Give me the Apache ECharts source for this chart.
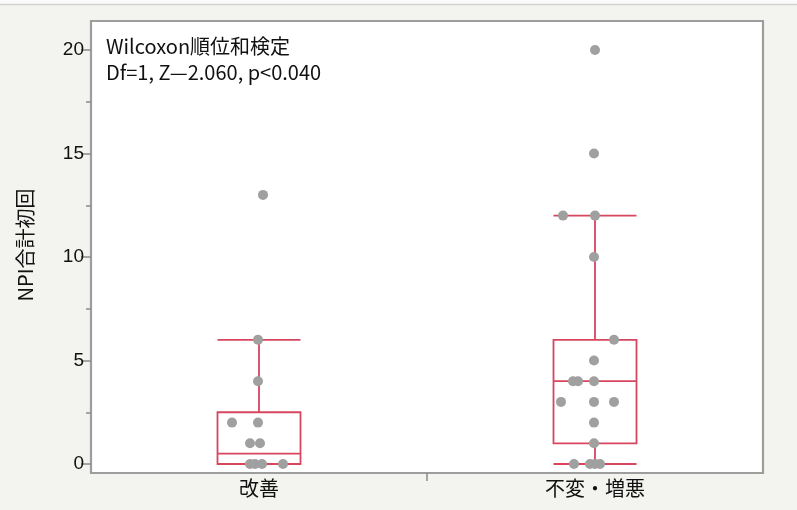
<!DOCTYPE html>
<html>
<head>
<meta charset="utf-8">
<script src="https://cdn.jsdelivr.net/npm/echarts@6/dist/echarts.min.js"></script>
<style>
  html, body { margin: 0; padding: 0; background: #f3f3ef; }
  #chart { width: 797px; height: 510px; }
</style>
</head>
<body>
<div id="chart"></div>
<script>
// カテゴリと箱ひげ図の統計量 [min, Q1, median, Q3, max]
const categories = ['改善', '不変・増悪'];
const boxStats = [
  [0, 0, 0.5, 2.5, 6],
  [0, 1, 4, 6, 12]
];

const valuesImproved = [13, 6, 4, 2, 2, 1, 1, 0, 0, 0, 0];
const valuesWorse = [20, 15, 12, 12, 10, 6, 5, 4, 4, 4, 3, 3, 3, 2, 1, 0, 0, 0, 0];

// 横方向のジッター（px）
const jitterImproved = [4, -1, -1, -27, -1, -9, 1, -9, -4, 3, 24];
const jitterWorse = [0, -1, -32, 0, -1, 19, -1, -22, -17, -1, -34, -1, 19, -1, -1, -21, -5, 0, 5];

const yTicks = { min: 0, max: 20, interval: 5 };
const yName = 'NPI合計初回';
const noteLines = ['Wilcoxon順位和検定', 'Df=1, Z—2.060, p<0.040'];

const cjk = "'Noto Sans CJK JP', sans-serif";
const latin = "'Liberation Sans', Arial, sans-serif";
const boxColor = '#d7455f';
const dotColor = '#a0a0a0';
const tickStyle = { color: '#8c8c8c', width: 1.5 };

const chart = echarts.init(document.getElementById('chart'));

function points(cat, values, jitter) {
  return values.map((v, i) => ({
    value: [cat, v],
    symbolOffset: [jitter[i], 0]
  }));
}

const option = {
  backgroundColor: '#f3f3ef',
  animation: false,
  grid: { left: 91, right: 34, top: 50, bottom: 46 },
  graphic: [
    { type: 'rect', z: -10, shape: { x: 0, y: 0, width: 797, height: 4 }, style: { fill: '#fafafa' } },
    { type: 'line', z: -10, shape: { x1: 0, y1: 4.5, x2: 797, y2: 4.5 }, style: { stroke: '#d2d2d2', lineWidth: 1.5 } },
    {
      type: 'rect', z: -5,
      shape: { x: 91, y: 21, width: 672, height: 452 },
      style: { fill: '#ffffff', stroke: '#9d9d9d', lineWidth: 2.2 }
    },
    {
      type: 'text', z: 10, x: 106, y: 33,
      style: {
        text: noteLines.join('\n'),
        font: '20px ' + cjk,
        lineHeight: 26,
        fill: '#111111'
      }
    },
    {
      type: 'text', z: 10, x: 25, y: 245, rotation: Math.PI / 2,
      style: {
        text: yName,
        font: '20px ' + cjk,
        fill: '#111111',
        align: 'center',
        verticalAlign: 'middle'
      }
    }
  ],
  xAxis: [
    {
      type: 'category',
      data: categories,
      offset: 9,
      axisLine: { show: false, onZero: false },
      axisTick: { show: false },
      axisLabel: { fontFamily: cjk, fontSize: 20, color: '#111111', margin: 5 },
      splitLine: { show: false }
    },
    {
      // 区切りの目盛りだけを描く補助軸
      type: 'value',
      position: 'bottom',
      min: 0,
      max: categories.length,
      offset: 9,
      axisLine: { show: false, onZero: false },
      axisTick: { show: true, length: 8, customValues: [1], lineStyle: tickStyle },
      axisLabel: { show: false },
      splitLine: { show: false }
    }
  ],
  yAxis: {
    type: 'value',
    min: yTicks.min,
    max: yTicks.max,
    interval: yTicks.interval,
    axisLine: { show: false },
    axisTick: { show: true, length: 10, lineStyle: tickStyle },
    minorTick: { show: true, splitNumber: 2, length: 5, lineStyle: tickStyle },
    axisLabel: { fontFamily: latin, fontSize: 19, color: '#111111', margin: 7 },
    splitLine: { show: false }
  },
  series: [
    {
      type: 'boxplot',
      xAxisIndex: 0,
      data: boxStats,
      boxWidth: [83, 83],
      itemStyle: { color: 'transparent', borderColor: boxColor, borderWidth: 1.8 },
      z: 2
    },
    {
      type: 'scatter',
      xAxisIndex: 0,
      clip: false,
      symbolSize: 10,
      itemStyle: { color: dotColor, opacity: 1 },
      data: points(categories[0], valuesImproved, jitterImproved)
        .concat(points(categories[1], valuesWorse, jitterWorse)),
      z: 3
    }
  ]
};

chart.setOption(option);
</script>
</body>
</html>
